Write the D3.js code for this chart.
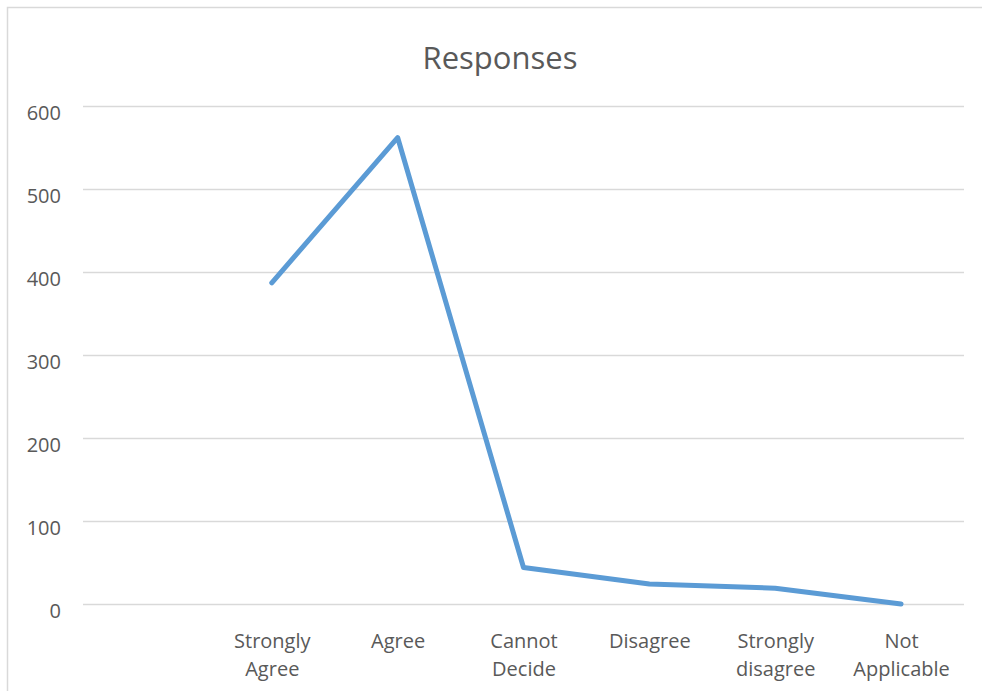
<!DOCTYPE html>
<html>
<head>
<meta charset="utf-8">
<script src="https://cdn.jsdelivr.net/npm/d3@7/dist/d3.min.js"></script>
<style>
  html, body { margin: 0; padding: 0; background: #fff; }
  svg { display: block; }
  text { font-family: "Open Sans", sans-serif; fill: #595959; }
</style>
</head>
<body>
<svg id="chart" width="982" height="691"></svg>
<script>
// ---- Data ----
const title = "Responses";
const categories = ["", "Strongly Agree", "Agree", "Cannot Decide", "Disagree", "Strongly disagree", "Not Applicable"];
const categoryLines = [[""], ["Strongly", "Agree"], ["Agree"], ["Cannot", "Decide"], ["Disagree"], ["Strongly", "disagree"], ["Not", "Applicable"]];
const values = [null, 387, 562, 44, 24, 19, 0];
const yTicks = [0, 100, 200, 300, 400, 500, 600];

// ---- Layout ----
const W = 982, H = 691;
const plot = { left: 83, right: 964, top: 106, bottom: 604 };

const svg = d3.select("#chart");

// outer border
svg.append("rect")
  .attr("x", 7.5).attr("y", 7.5)
  .attr("width", 1000).attr("height", 700)
  .attr("fill", "none").attr("stroke", "#D9D9D9").attr("stroke-width", 1.5);

const x = d3.scalePoint()
  .domain(d3.range(categories.length))
  .range([plot.left, plot.right])
  .padding(0.5);

const y = d3.scaleLinear()
  .domain([0, 600])
  .range([plot.bottom, plot.top]);

// title
svg.append("text")
  .attr("x", 500).attr("y", 69)
  .attr("text-anchor", "middle")
  .style("font-size", "31px")
  .text(title);

// y axis with gridlines
const yAxis = svg.append("g")
  .attr("transform", `translate(${plot.left},0)`)
  .call(d3.axisLeft(y).tickValues(yTicks).tickSize(-(plot.right - plot.left)).tickPadding(22));
yAxis.select(".domain").remove();
yAxis.selectAll(".tick line").attr("stroke", "#D9D9D9").attr("stroke-width", 1.5);
yAxis.selectAll(".tick text")
  .attr("dy", "0.7em")
  .attr("y", -1)
  .style("font-size", "20px")
  .style("font-family", "'Open Sans', sans-serif")
  .attr("fill", "#595959");

// x axis labels
const xAxis = svg.append("g")
  .attr("transform", `translate(0,${plot.bottom})`)
  .call(d3.axisBottom(x).tickSize(0).tickFormat(i => categories[i]));
xAxis.select(".domain").remove();
xAxis.selectAll(".tick text")
  .style("font-size", "20px")
  .style("font-family", "'Open Sans', sans-serif")
  .attr("fill", "#595959")
  .each(function(i) {
    const t = d3.select(this);
    t.text(null).attr("y", 0).attr("dy", null);
    categoryLines[i].forEach((ln, k) => {
      t.append("tspan").attr("x", 0).attr("y", 44 + k * 28.4).text(ln);
    });
  });

// line
const line = d3.line()
  .defined(d => d.v !== null)
  .x(d => x(d.i))
  .y(d => y(d.v));

svg.append("path")
  .datum(values.map((v, i) => ({ i, v })))
  .attr("d", line)
  .attr("fill", "none")
  .attr("stroke", "#5B9BD5")
  .attr("stroke-width", 5)
  .attr("stroke-linecap", "round")
  .attr("stroke-linejoin", "round");
</script>
</body>
</html>
